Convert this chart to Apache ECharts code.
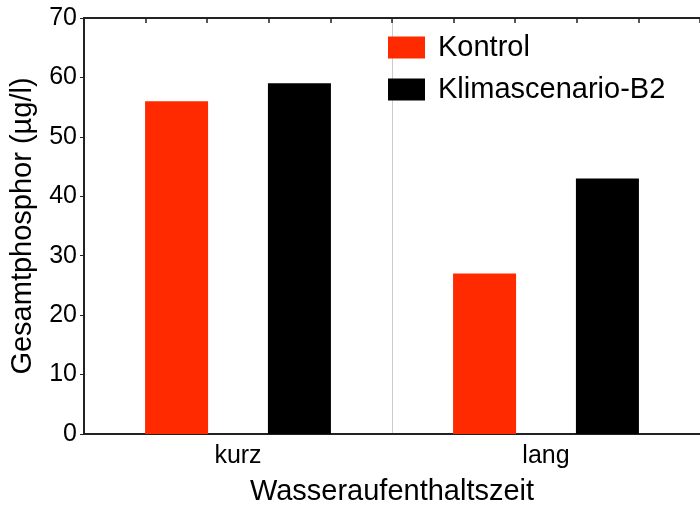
<!DOCTYPE html>
<html>
<head>
<meta charset="utf-8">
<script src="https://cdn.jsdelivr.net/npm/echarts@6/dist/echarts.min.js"></script>
<style>
  html, body { margin: 0; padding: 0; background: #fff; }
  #chart { width: 700px; height: 511px; }
</style>
</head>
<body>
<div id="chart"></div>
<script>
  const categories = ['kurz', 'lang'];
  const kontrol = [56, 27];
  const klima = [59, 43];
  const seriesNames = ['Kontrol', 'Klimascenario-B2'];

  const font = '"Liberation Sans", Arial, sans-serif';
  const chart = echarts.init(document.getElementById('chart'));

  let option = {
    animation: false,
    backgroundColor: '#fff',
    textStyle: { fontFamily: font, color: '#000' },
    // plot runs past the right edge of the picture, like the original crop
    grid: { left: 83, width: 622, top: 18, bottom: 75 },
    legend: {
      orient: 'vertical',
      left: 388,
      top: 33,
      padding: 0,
      icon: 'rect',
      itemWidth: 37,
      itemHeight: 22,
      itemGap: 13,
      data: seriesNames,
      textStyle: { fontSize: 29, lineHeight: 22, color: '#000', padding: [0, 0, 0, 8] }
    },
    xAxis: [{
      type: 'category',
      data: categories,
      name: 'Wasseraufenthaltszeit',
      nameLocation: 'middle',
      nameGap: 43,
      nameTextStyle: { fontSize: 29, color: '#000' },
      axisLine: { lineStyle: { color: '#222', width: 2 } },
      axisTick: { inside: true, length: 4, lineStyle: { color: '#222' } },
      axisLabel: { fontSize: 25, color: '#000', margin: 10 },
      splitLine: { show: true, lineStyle: { color: '#cccccc', width: 1 } }
    }, {
      type: 'value',
      position: 'top',
      min: 0,
      max: 10,
      interval: 1,
      axisLine: { show: true, onZero: false, lineStyle: { color: '#222', width: 2 } },
      axisTick: { show: true, inside: true, length: 5, lineStyle: { color: '#222', width: 1.5 } },
      axisLabel: { show: false },
      splitLine: { show: false }
    }],
    yAxis: {
      type: 'value',
      min: 0,
      max: 70,
      interval: 10,
      name: 'Gesamtphosphor (µg/l)',
      nameLocation: 'middle',
      nameGap: 47,
      nameTextStyle: { fontSize: 29, color: '#000' },
      axisLine: { show: true, lineStyle: { color: '#222', width: 2 } },
      axisTick: { show: true, length: 4, lineStyle: { color: '#222' } },
      axisLabel: { fontSize: 25, color: '#000', margin: 7 },
      splitLine: { show: false }
    },
    series: [{
      name: seriesNames[0],
      type: 'bar',
      data: kontrol,
      barWidth: 63,
      barGap: '95%',
      itemStyle: { color: '#ff2a00' }
    }, {
      name: seriesNames[1],
      type: 'bar',
      data: klima,
      barWidth: 63,
      barGap: '95%',
      itemStyle: { color: '#000000' }
    }]
  };

  chart.setOption(option);
</script>
</body>
</html>
